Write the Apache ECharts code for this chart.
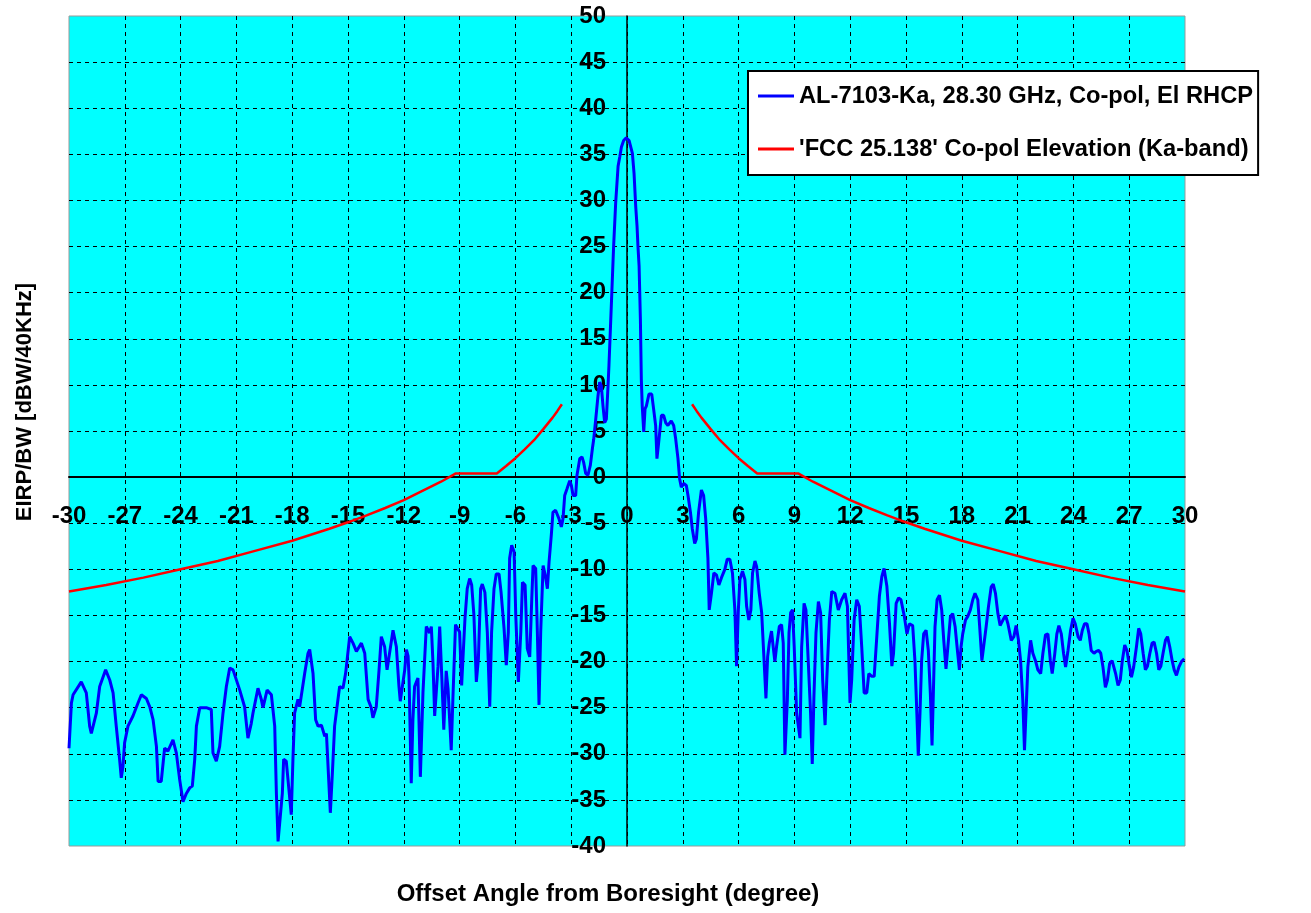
<!DOCTYPE html>
<html>
<head>
<meta charset="utf-8">
<script src="https://cdn.jsdelivr.net/npm/echarts@6/dist/echarts.min.js"></script>
<style>
html,body{margin:0;padding:0;background:#fff;}
#chart{width:1311px;height:913px;}
</style>
</head>
<body>
<div id="chart"></div>
<script>
// ---- data ----
const patternName = 'AL-7103-Ka, 28.30 GHz, Co-pol, El RHCP';
const maskName = "'FCC 25.138' Co-pol Elevation (Ka-band)";
const xTitle = 'Offset Angle from Boresight (degree)';
const yTitle = 'EIRP/BW [dBW/40KHz]';

// measured pattern, split in segments (angle in degree, level in dBW/40KHz)
const farLeftAngle = [-30.0,-29.87,-29.78,-29.34,-29.07,-28.89,-28.8,-28.53,-28.35,-28.03,-27.81,-27.63,-27.46,-27.28,-27.19,-27.1,-27.01,-26.83,-26.56,-26.29,-26.11,-25.84,-25.66,-25.48,-25.3,-25.21,-25.04,-24.86,-24.68,-24.41,-24.23,-24.05,-23.87,-23.69,-23.51,-23.37,-23.24,-23.15,-22.97,-22.62,-22.35,-22.26,-22.08,-21.9,-21.72,-21.54,-21.36,-21.18,-20.82,-20.56,-20.38,-20.2,-20.11,-19.84,-19.66,-19.57,-19.35,-19.12,-18.94,-18.85,-18.76,-18.67,-18.53,-18.46,-18.32,-18.23,-18.05,-17.96,-17.87,-17.69,-17.6,-17.33,-17.15,-17.06,-16.88,-16.74,-16.61,-16.43,-16.25,-16.16,-15.95,-15.84,-15.72,-15.59,-15.45,-15.27,-15.13,-14.91,-14.73,-14.55,-14.28,-14.1,-13.92,-13.75,-13.66,-13.48,-13.33,-13.21,-13.03,-12.9,-12.81,-12.58,-12.4,-12.26,-12.19,-11.95,-11.86,-11.77,-11.72,-11.6,-11.51,-11.42,-11.24,-11.11,-10.97,-10.79,-10.61,-10.52,-10.43,-10.34,-10.16,-10.07,-9.95,-9.85,-9.72,-9.62,-9.45,-9.36,-9.22,-9.12];
const farLeftLevel = [-29.4,-24.5,-23.6,-22.2,-23.4,-27.0,-27.8,-25.6,-22.7,-20.9,-22.0,-23.4,-27.0,-30.6,-32.6,-31.4,-28.8,-27.0,-25.9,-24.5,-23.6,-24.0,-24.9,-26.3,-29.2,-33.0,-33.0,-29.4,-29.7,-28.5,-29.9,-32.8,-35.2,-34.3,-33.7,-33.5,-30.6,-27.0,-25.0,-25.0,-25.2,-29.9,-30.8,-29.2,-25.6,-22.7,-20.7,-20.9,-23.1,-24.9,-28.3,-26.7,-25.6,-22.9,-24.1,-25.0,-23.1,-23.6,-27.0,-34.3,-39.5,-39.3,-34.3,-30.6,-30.8,-30.6,-36.6,-30.6,-25.6,-24.1,-24.9,-21.3,-19.1,-18.7,-21.3,-26.3,-27.0,-26.9,-28.1,-27.8,-36.4,-32.1,-27.0,-24.9,-22.7,-22.9,-21.3,-17.3,-18.0,-18.9,-18.0,-19.1,-24.1,-25.0,-26.1,-24.9,-20.9,-17.3,-18.4,-20.9,-20.9,-16.6,-18.4,-22.7,-24.3,-20.9,-18.7,-19.4,-21.6,-33.2,-26.3,-22.7,-21.8,-32.5,-23.4,-16.2,-16.9,-16.2,-20.2,-25.9,-20.5,-16.2,-22.0,-27.4,-21.0,-23.0,-29.6,-24.0,-16.0,-15.9];

const nearLeftAngle = [-9.0,-8.89,-8.82,-8.71,-8.59,-8.46,-8.35,-8.23,-8.1,-7.99,-7.87,-7.78,-7.64,-7.51,-7.38,-7.28,-7.15,-7.03,-6.88,-6.77,-6.61,-6.49,-6.38,-6.31,-6.2,-6.07,-5.98,-5.84,-5.71,-5.62,-5.48,-5.36,-5.23,-5.12,-5.05,-4.91,-4.82,-4.73,-4.64,-4.51,-4.4,-4.28,-4.19];
const nearLeftLevel = [-16.8,-22.6,-19.7,-15.3,-12.1,-11.0,-11.7,-15.0,-22.2,-19.7,-12.1,-11.6,-12.5,-16.8,-24.9,-16.8,-12.1,-10.5,-10.5,-12.5,-16.4,-20.4,-16.8,-8.8,-7.4,-8.1,-15.0,-22.2,-16.8,-11.4,-11.7,-18.6,-19.5,-13.2,-9.6,-9.9,-16.8,-24.7,-16.8,-9.6,-10.6,-12.1,-9.2];

const mainLobeAngle = [-4.07,-3.98,-3.84,-3.66,-3.53,-3.44,-3.35,-3.23,-3.08,-2.99,-2.9,-2.76,-2.69,-2.54,-2.42,-2.33,-2.22,-2.1,-1.97,-1.86,-1.79,-1.68,-1.56,-1.47,-1.38,-1.29,-1.2,-1.11,-1.02,-0.97,-0.9,-0.81,-0.72,-0.61,-0.48,-0.39,-0.3,-0.18,-0.04,0.11,0.2,0.29,0.38,0.47,0.54,0.59,0.65,0.72,0.77,0.82,0.9,0.97,1.04,1.18,1.33,1.43,1.54,1.61,1.72,1.85,1.97,2.08,2.2,2.38,2.51,2.62,2.74,2.83,2.92,3.05,3.19,3.28,3.41,3.51,3.64,3.73,3.85,4.0,4.12,4.23,4.35];
const mainLobeLevel = [-6.3,-3.8,-3.6,-4.5,-5.4,-4.5,-2.0,-1.3,-0.4,-0.9,-2.0,-2.0,0.2,2.0,2.2,1.6,0.4,0.2,1.3,3.1,4.1,6.3,8.8,10.3,9.9,7.7,5.9,6.3,9.9,12.1,15.7,20.3,25.0,29.7,33.7,34.7,35.8,36.5,36.8,36.5,35.8,35.1,32.9,29.3,27.2,25.0,22.9,17.1,10.6,7.7,4.9,7.4,7.7,9.0,9.0,7.4,5.6,2.0,4.1,6.7,6.7,5.9,5.6,6.1,5.6,4.1,2.0,-0.2,-1.1,-0.7,-0.9,-2.0,-3.8,-5.6,-7.2,-6.7,-3.8,-1.4,-2.0,-4.5,-8.8];

const nearRightAngle = [4.42,4.54,4.67,4.81,4.94,5.08,5.26,5.39,5.53,5.67,5.8,5.89,5.98,6.07,6.21,6.34,6.43,6.55,6.66,6.75,6.88,6.97,7.11,7.24,7.36,7.47,7.56,7.65,7.77,7.86,7.95,8.04,8.19,8.31,8.4,8.49,8.62,8.71,8.8,8.9,8.99,9.12,9.3,9.39,9.52,9.62,9.75,9.87,9.96,10.05,10.16,10.29,10.41,10.52,10.65,10.74,10.88,11.01,11.18,11.36,11.54,11.72,11.85,11.99,12.08,12.21,12.35,12.49,12.62,12.75,12.89,13.0,13.16,13.29,13.43,13.57,13.7,13.82,13.97,14.11,14.24,14.33,14.47,14.6];
const nearRightLevel = [-14.4,-12.6,-10.4,-10.6,-11.7,-10.9,-10.0,-8.9,-8.9,-10.4,-14.4,-20.5,-14.7,-11.1,-10.2,-11.1,-14.0,-15.5,-14.4,-10.4,-9.1,-9.7,-12.6,-14.7,-19.5,-24.0,-19.5,-18.0,-16.7,-18.4,-20.0,-18.4,-16.2,-16.0,-18.0,-30.1,-24.2,-16.9,-14.7,-14.4,-18.4,-25.6,-28.3,-18.4,-13.7,-14.4,-20.2,-25.6,-31.1,-23.8,-16.9,-13.5,-14.7,-22.0,-26.9,-22.0,-15.5,-12.4,-12.6,-14.4,-13.3,-12.6,-14.0,-24.5,-22.0,-15.5,-13.3,-14.0,-18.4,-23.4,-23.4,-21.3,-21.6,-21.6,-17.3,-12.9,-10.8,-9.9,-11.8,-15.8,-20.5,-19.1,-13.7,-13.1];

const farRightAngle = [14.73,14.91,15.05,15.18,15.36,15.48,15.59,15.66,15.75,15.84,15.95,16.08,16.2,16.31,16.4,16.47,16.56,16.67,16.8,16.92,17.03,17.15,17.28,17.39,17.51,17.64,17.78,17.87,17.96,18.05,18.2,18.32,18.46,18.59,18.71,18.86,18.96,19.08,19.18,19.31,19.43,19.58,19.69,19.81,19.94,20.06,20.21,20.35,20.48,20.66,20.8,20.92,21.05,21.16,21.28,21.37,21.46,21.55,21.7,21.82,21.96,22.09,22.24,22.36,22.5,22.63,22.76,22.86,22.99,23.11,23.22,23.35,23.47,23.58,23.71,23.85,23.98,24.1,24.25,24.37,24.48,24.6,24.73,24.84,24.96,25.11,25.23,25.36,25.47,25.59,25.72,25.83,25.95,26.08,26.18,26.27,26.4,26.52,26.63,26.76,26.88,26.99,27.12,27.24,27.39,27.51,27.62,27.75,27.87,27.98,28.11,28.23,28.34,28.47,28.59,28.7,28.82,28.95,29.06,29.18,29.31,29.42,29.54,29.67,29.81,29.96];
const farRightLevel = [-13.3,-15.1,-17.0,-15.9,-16.1,-19.9,-26.0,-30.2,-25.7,-19.9,-17.0,-16.6,-18.8,-23.5,-29.1,-23.5,-16.2,-13.3,-12.8,-14.4,-17.7,-20.8,-17.7,-15.1,-14.8,-16.2,-19.1,-20.9,-18.4,-17.0,-15.5,-15.1,-14.4,-13.3,-12.6,-13.3,-16.2,-19.9,-19.9,-16.2,-14.1,-11.9,-11.6,-12.6,-14.8,-16.1,-15.5,-15.0,-15.9,-17.7,-17.3,-16.1,-17.7,-19.9,-24.2,-29.6,-25.1,-20.6,-17.7,-19.1,-19.9,-20.9,-21.3,-19.1,-17.1,-17.0,-19.9,-21.3,-19.3,-17.0,-16.1,-17.0,-19.1,-20.6,-18.8,-16.6,-15.3,-15.9,-17.3,-17.7,-16.6,-15.9,-15.9,-17.0,-18.8,-19.1,-18.9,-18.8,-19.1,-20.6,-22.8,-22.0,-20.2,-19.9,-19.9,-21.3,-22.6,-22.0,-19.9,-18.2,-18.8,-20.2,-21.7,-20.6,-18.4,-16.4,-17.0,-19.1,-20.9,-20.5,-19.1,-18.0,-17.9,-19.1,-20.9,-20.5,-19.1,-17.7,-17.3,-18.4,-19.9,-20.9,-21.5,-20.6,-20.0,-19.7];

// regulatory mask (two branches)
const maskLeftAngle = [-30,-28,-26,-24,-22,-20,-18,-16,-15,-14,-13,-12,-11,-10,-9.2,-7,-6.5,-6,-5.5,-5,-4.5,-4,-3.75,-3.5];
const maskLeftLevel = [-12.4,-11.7,-10.9,-10.0,-9.1,-8.0,-6.9,-5.6,-4.9,-4.15,-3.35,-2.5,-1.5,-0.5,0.4,0.4,1.2,2.05,3.0,4.0,5.2,6.45,7.15,7.9];
const maskRightAngle = [3.5,3.75,4,4.5,5,5.5,6,6.5,7,9.2,10,11,12,13,14,15,16,18,20,22,24,26,28,30];
const maskRightLevel = [7.9,7.15,6.45,5.2,4.0,3.0,2.05,1.2,0.4,0.4,-0.5,-1.5,-2.5,-3.35,-4.15,-4.9,-5.6,-6.9,-8.0,-9.1,-10.0,-10.9,-11.7,-12.4];

// ---- chart ----
const FONT = '"Liberation Sans", Arial, sans-serif';
const pair = (xs, ys) => xs.map((x, i) => [x, ys[i]]);
const patternData = [].concat(
  pair(farLeftAngle, farLeftLevel), pair(nearLeftAngle, nearLeftLevel),
  pair(mainLobeAngle, mainLobeLevel), pair(nearRightAngle, nearRightLevel),
  pair(farRightAngle, farRightLevel));

const GRID = {left: 69, right: 126, top: 16, bottom: 67};
const W = 1311, H = 913;
const X_MIN = -30, X_MAX = 30, Y_MIN = -40, Y_MAX = 50;
const plotW = W - GRID.left - GRID.right, plotH = H - GRID.top - GRID.bottom;
// shift axes so that they cross at the origin (0,0)
const xAxisOffset = -plotH * (0 - Y_MIN) / (Y_MAX - Y_MIN);
const yAxisOffset = -plotW * (0 - X_MIN) / (X_MAX - X_MIN);

const chart = echarts.init(document.getElementById('chart'), null, {renderer: 'canvas'});
const gridLine = {show: true, showMinLine: false, showMaxLine: false,
  lineStyle: {color: '#000', width: 1, type: [4, 4]}};

chart.setOption({
  animation: false,
  backgroundColor: '#ffffff',
  grid: Object.assign({containLabel: false, show: true, backgroundColor: '#00ffff',
    borderColor: '#999', borderWidth: 1}, GRID),
  legend: {
    orient: 'vertical', left: 748, top: 71,
    padding: [13, 5, 14, 10], itemGap: 29,
    icon: 'rect', itemWidth: 36, itemHeight: 3,
    backgroundColor: '#fff', borderColor: '#000', borderWidth: 2,
    textStyle: {fontSize: 23.7, fontWeight: 'bold', fontFamily: FONT, color: '#000'},
    data: [patternName, maskName]
  },
  xAxis: {
    type: 'value', min: X_MIN, max: X_MAX, interval: 3,
    position: 'bottom', offset: xAxisOffset,
    axisLine: {onZero: false, lineStyle: {color: '#000', width: 2}},
    axisTick: {show: false},
    axisLabel: {fontSize: 24, fontWeight: 'bold', fontFamily: FONT, color: '#000', margin: 27},
    splitLine: gridLine
  },
  yAxis: {
    type: 'value', min: Y_MIN, max: Y_MAX, interval: 5,
    position: 'left', offset: yAxisOffset,
    axisLine: {onZero: false, lineStyle: {color: '#000', width: 1.5}},
    axisTick: {show: false},
    axisLabel: {fontSize: 24, fontWeight: 'bold', fontFamily: FONT, color: '#000', margin: 21},
    splitLine: gridLine
  },
  graphic: [
    {type: 'text', x: 608, y: 894, z: 100,
      style: {text: xTitle, fontSize: 24, fontWeight: 'bold', fontFamily: FONT, fill: '#000',
        align: 'center', verticalAlign: 'middle'}},
    {type: 'text', x: 25, y: 402, rotation: Math.PI / 2, z: 100,
      style: {text: yTitle, fontSize: 22, fontWeight: 'bold', fontFamily: FONT, fill: '#000',
        align: 'center', verticalAlign: 'middle'}}
  ],
  series: [
    {name: maskName, type: 'line', data: pair(maskLeftAngle, maskLeftLevel), showSymbol: false,
      lineStyle: {color: '#ff0000', width: 2.5}, itemStyle: {color: '#ff0000'}, z: 2},
    {name: maskName, type: 'line', data: pair(maskRightAngle, maskRightLevel), showSymbol: false,
      lineStyle: {color: '#ff0000', width: 2.5}, itemStyle: {color: '#ff0000'}, z: 2},
    {name: patternName, type: 'line', data: patternData, showSymbol: false,
      lineStyle: {color: '#0000ff', width: 3}, itemStyle: {color: '#0000ff'}, z: 3}
  ]
});
</script>
</body>
</html>
